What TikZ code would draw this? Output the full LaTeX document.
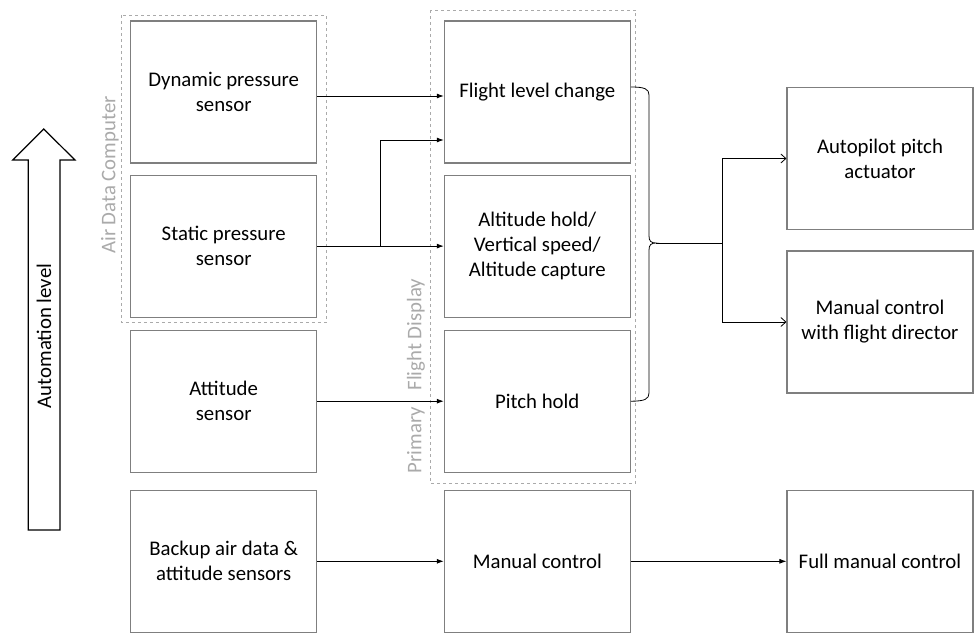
\documentclass[tikz,border=0pt]{standalone}
\usepackage{fontspec}
\setmainfont{Carlito}
\usepackage{xcolor}
\usepackage{tikz}
\usetikzlibrary{arrows.meta, positioning, calc}
\definecolor{boxgray}{RGB}{127,127,127}
\definecolor{dashgray}{RGB}{170,170,170}

\begin{document}
\begin{tikzpicture}[
    x=1pt, y=-1pt,
    font=\fontsize{20.8}{25}\selectfont,
    box/.style={rectangle, draw=boxgray, line width=1.1pt, minimum width=186pt, minimum height=142pt, align=center, inner sep=0pt},
    group/.style={draw=dashgray, dashed, line width=0.9pt},
    grouplabel/.style={text=dashgray, rotate=90, inner sep=0pt},
    arrow/.style={-{Latex[length=7pt, width=5pt]}, line width=0.8pt},
    openarrow/.style={-{Straight Barb[length=5pt, width=9pt]}, line width=0.8pt}
]
\useasboundingbox (0,0) rectangle (975,634);

\node[box] (dyn) at (223.7,92) {Dynamic pressure\\sensor};
\node[box, below=11pt of dyn] (sps) {Static pressure\\sensor};
\node[box, below=12pt of sps] (att) {Attitude\\sensor};
\node[box, below=17pt of att] (bkp) {Backup air data \&\\attitude sensors};

\node[box] (flc) at (537.3,92) {Flight level change};
\node[box, below=11pt of flc] (alt) {Altitude hold/\\Vertical speed/\\Altitude capture};
\node[box, below=12pt of alt] (ph) {Pitch hold};
\node[box, below=17pt of ph] (man) {Manual control};

\node[box] (ap) at (880,158.5) {Autopilot pitch\\actuator};
\node[box, below=20.4pt of ap] (fd) {Manual control\\with flight director};
\node[box] (fmc) at (man -| ap) {Full manual control};

% dashed groups
\draw[group] ($(dyn.north west)+(-9,-5)$) rectangle ($(sps.south east)+(9,5)$);
\node[grouplabel] (adclabel) at (110,175) {Air Data Computer};
\draw[group] ($(flc.north west)+(-13,-10)$) rectangle ($(ph.south east)+(5,11)$);
\node[grouplabel] (pfdlabel) at (416,376) {Primary\hspace{0.8em}Flight Display};

% automation arrow
\draw[line width=1.2pt, fill=white] (43.7,129) -- (75,160) -- (60,160) -- (60,530) -- (28.3,530) -- (28.3,160) -- (12.7,160) -- cycle;
\node[rotate=90] (autolevel) at (44,336) {Automation level};

\draw[arrow] ([yshift=-4pt]dyn.east) -- ([yshift=-4pt]dyn.east -| flc.west);
\draw[arrow] (sps.east) -- (alt.west);
\coordinate (branch) at ($(sps.east)+(63,0)$);
\draw[arrow] (branch) |- ([yshift=-48pt]flc.west);
\draw[arrow] (att.east) -- (ph.west);
\draw[arrow] (bkp.east) -- (man.west);
\draw[arrow] (man.east) -- (fmc.west);

% brace
\coordinate (bracetop) at ([yshift=5pt]flc.east);
\coordinate (bracebot) at (ph.east);
\coordinate (bracetip) at (656,243);
\draw[line width=0.8pt] (bracetop) .. controls +(14,0) and +(0,-6) .. (649,95) -- (649,236)
    .. controls +(0,5) and +(-5,0) .. (bracetip)
    .. controls +(-5,0) and +(0,-5) .. (649,250) -- (649,393)
    .. controls +(0,6) and +(14,0) .. (bracebot);
\coordinate (split) at (722,243);
\draw[line width=0.8pt] (bracetip) -- (split);
\draw[openarrow] (split) |- (ap.west);
\draw[openarrow] (split) |- (fd.west);

\end{tikzpicture}
\end{document}
